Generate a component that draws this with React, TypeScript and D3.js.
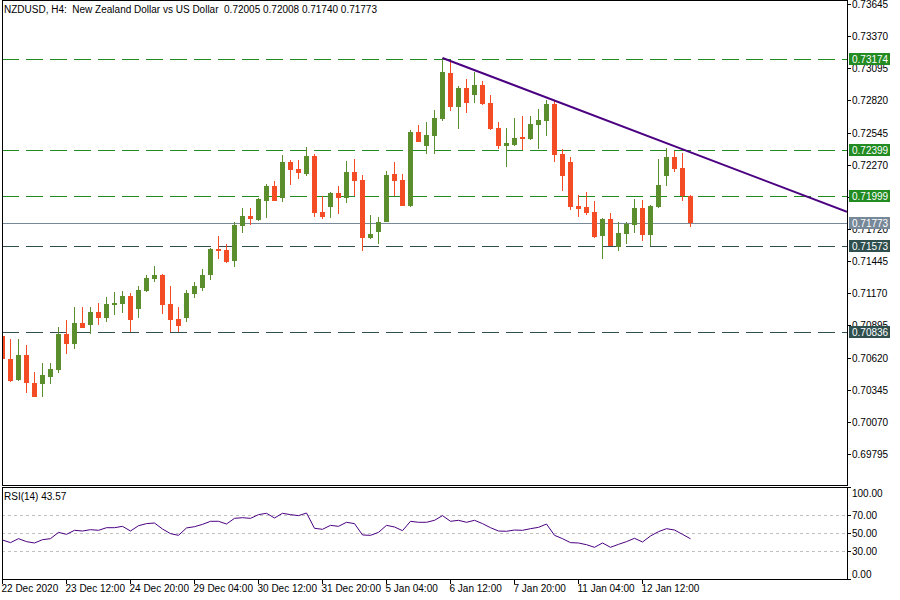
import React from 'react';
import * as d3 from 'd3';

// ---------- DATA ----------
const xTickLabels = ["22 Dec 2020", "23 Dec 12:00", "24 Dec 20:00", "29 Dec 04:00", "30 Dec 12:00", "31 Dec 20:00", "5 Jan 04:00", "6 Jan 12:00", "7 Jan 20:00", "11 Jan 04:00", "12 Jan 12:00"];
const xTickBars = [0, 8, 16, 24, 32, 40, 48, 56, 64, 72, 80];

const openP = [0.70805, 0.70608, 0.70428, 0.70642, 0.70402, 0.70394, 0.70454, 0.70514, 0.70822, 0.70736,
  0.70916, 0.70899, 0.71010, 0.70959, 0.71070, 0.71078, 0.71147, 0.71036, 0.71190, 0.71292,
  0.71326, 0.71078, 0.70950, 0.70959, 0.71164, 0.71215, 0.71326, 0.71549, 0.71540, 0.71446,
  0.71746, 0.71831, 0.71797, 0.71960, 0.72088, 0.71985, 0.72293, 0.72233, 0.72191, 0.72345,
  0.71865, 0.71908, 0.72028, 0.71985, 0.72208, 0.72139, 0.71643, 0.71694, 0.71780, 0.72191,
  0.72139, 0.71917, 0.72550, 0.72430, 0.72516, 0.72661, 0.73055, 0.72764, 0.72926, 0.72866,
  0.72952, 0.72798, 0.72584, 0.72430, 0.72439, 0.72507, 0.72490, 0.72610, 0.72644, 0.72789,
  0.72362, 0.72293, 0.71917, 0.71908, 0.71865, 0.71660, 0.71806, 0.71566, 0.71677, 0.71754,
  0.71900, 0.71669, 0.71908, 0.72173, 0.72336, 0.72242, 0.72005];
const highP = [0.70822, 0.70779, 0.70779, 0.70728, 0.70497, 0.70574, 0.70574, 0.70882, 0.70941, 0.71053,
  0.71053, 0.71053, 0.71087, 0.71138, 0.71181, 0.71190, 0.71172, 0.71232, 0.71326, 0.71403,
  0.71335, 0.71232, 0.71053, 0.71198, 0.71267, 0.71378, 0.71557, 0.71660, 0.71592, 0.71780,
  0.71900, 0.71900, 0.71985, 0.72105, 0.72131, 0.72353, 0.72310, 0.72310, 0.72422, 0.72362,
  0.72002, 0.72037, 0.72088, 0.72302, 0.72319, 0.72182, 0.71840, 0.71823, 0.72216, 0.72293,
  0.72191, 0.72567, 0.72610, 0.72635, 0.72738, 0.73183, 0.73166, 0.72943, 0.73003, 0.73063,
  0.72986, 0.72866, 0.72635, 0.72584, 0.72670, 0.72687, 0.72687, 0.72747, 0.72824, 0.72824,
  0.72404, 0.72336, 0.72011, 0.72037, 0.71960, 0.71814, 0.71857, 0.71780, 0.71780, 0.71977,
  0.71968, 0.71925, 0.72319, 0.72413, 0.72387, 0.72370, 0.72008];
const lowP = [0.70582, 0.70411, 0.70420, 0.70317, 0.70283, 0.70283, 0.70394, 0.70488, 0.70651, 0.70693,
  0.70873, 0.70822, 0.70899, 0.70924, 0.70984, 0.71001, 0.70839, 0.70959, 0.71181, 0.71267,
  0.70993, 0.70839, 0.70839, 0.70924, 0.71130, 0.71190, 0.71284, 0.71463, 0.71429, 0.71395,
  0.71686, 0.71754, 0.71788, 0.71814, 0.71960, 0.71951, 0.72096, 0.72148, 0.72173, 0.71823,
  0.71806, 0.71814, 0.71848, 0.71942, 0.72002, 0.71532, 0.71634, 0.71592, 0.71780, 0.72002,
  0.71917, 0.71908, 0.72464, 0.72362, 0.72362, 0.72644, 0.72730, 0.72576, 0.72712, 0.72798,
  0.72781, 0.72567, 0.72404, 0.72250, 0.72430, 0.72396, 0.72481, 0.72404, 0.72516, 0.72293,
  0.72045, 0.71883, 0.71823, 0.71840, 0.71643, 0.71463, 0.71575, 0.71532, 0.71592, 0.71686,
  0.71617, 0.71575, 0.71900, 0.72088, 0.72208, 0.71960, 0.71740];
const closeP = [0.70608, 0.70420, 0.70642, 0.70402, 0.70283, 0.70471, 0.70522, 0.70822, 0.70736, 0.70916,
  0.70873, 0.71010, 0.70959, 0.71078, 0.71087, 0.71147, 0.70941, 0.71198, 0.71301, 0.71326,
  0.71070, 0.70941, 0.70890, 0.71172, 0.71232, 0.71326, 0.71549, 0.71532, 0.71438, 0.71754,
  0.71831, 0.71806, 0.71977, 0.72088, 0.71960, 0.72293, 0.72225, 0.72199, 0.72345, 0.71857,
  0.71823, 0.72028, 0.71985, 0.72208, 0.72131, 0.71643, 0.71677, 0.71780, 0.72182, 0.72131,
  0.71917, 0.72550, 0.72464, 0.72524, 0.72670, 0.73063, 0.72764, 0.72926, 0.72798, 0.72952,
  0.72789, 0.72576, 0.72430, 0.72456, 0.72499, 0.72490, 0.72618, 0.72653, 0.72789, 0.72353,
  0.72173, 0.71908, 0.71891, 0.71857, 0.71652, 0.71806, 0.71575, 0.71686, 0.71763, 0.71900,
  0.71669, 0.71917, 0.72096, 0.72336, 0.72233, 0.72002, 0.71773];

const rsi14 = [42.2, 39.3, 43.7, 40.4, 38.9, 42.6, 43.7, 50.7, 48.5, 53.0,
  52.2, 53.7, 53.0, 55.9, 55.9, 57.4, 52.2, 58.1, 60.4, 61.1,
  54.4, 49.3, 47.4, 55.6, 57.0, 59.6, 63.0, 63.0, 60.0, 66.3,
  67.0, 66.3, 70.4, 71.9, 66.7, 71.9, 70.4, 69.3, 72.2, 55.2,
  54.1, 58.5, 57.4, 61.9, 60.4, 47.8, 47.4, 50.7, 58.5, 56.7,
  52.6, 63.0, 61.9, 61.9, 64.1, 69.3, 63.0, 64.1, 61.9, 64.1,
  60.4, 55.9, 52.2, 51.9, 53.3, 53.0, 54.8, 56.3, 60.0, 47.4,
  43.7, 39.3, 38.9, 37.0, 34.1, 38.9, 34.1, 37.4, 40.4, 44.1,
  40.0, 46.7, 51.5, 54.8, 53.3, 48.5, 43.57];

const priceTickLabels = ["0.73645", "0.73370", "0.73095", "0.72820", "0.72545", "0.72270", "0.71995", "0.71720", "0.71445", "0.71170", "0.70895", "0.70620", "0.70345", "0.70070", "0.69795"];
const rsiTickValues = [100, 70, 50, 30, 0];
const rsiLevels = [70, 50, 30];

const resistanceLevels = [0.73174, 0.72399, 0.71999];
const supportLevels = [0.71573, 0.70836];
const lastPrice = 0.71773;

const trendBars = [55, 83];
const trendPrices = [0.73183, 0.72454];

const titleText = "NZDUSD, H4:  New Zealand Dollar vs US Dollar  0.72005 0.72008 0.71740 0.71773";
const rsiTitle = "RSI(14) 43.57";

// ---------- LAYOUT ----------
const W = 900, H = 600;
const L = 2, R = 847;
const mainTop = 0, mainBottom = 485;
const rsiTop = 487, rsiBottom = 579;
const FONT = "'Liberation Sans', Arial, sans-serif";
const FS = 10;

const UP = '#5b8f2e';
const DOWN = '#f44d26';
const RES = '#228b22';
const SUP = '#2f4f4f';
const LAST = '#778899';
const TREND = '#4b0082';

export default function App() {
  const x = d3.scaleLinear().domain([0, 100]).range([2.5, 802.5]);
  const y = d3.scaleLinear().domain([0.69795, 0.73645]).range([454, 4]);
  const yr = d3.scaleLinear().domain([0, 100]).range([578, 488]);

  const candles = openP.map((o, i) => ({ o, h: highP[i], l: lowP[i], c: closeP[i], i }));

  const rsiLine = d3.line<number>().x((_, i) => x(i)).y(v => yr(v))(rsi14) || '';

  // trend line extended to the right edge
  const slope = (trendPrices[1] - trendPrices[0]) / (trendBars[1] - trendBars[0]);
  const endBar = x.invert(R);
  const trendEndPrice = trendPrices[0] + slope * (endBar - trendBars[0]);

  const levelLabel = (v: number, fill: string, key: string) => {
    const yy = Math.round(y(v));
    return (
      <g key={key}>
        <rect x={849} y={yy - 6} width={41} height={12} fill={fill} />
        <text x={852} y={yy} dy="0.35em" fill="#fff" fontSize={FS} fontFamily={FONT}>{v.toFixed(5)}</text>
      </g>
    );
  };

  return (
    <svg width={W} height={H} style={{ position: 'absolute', left: 0, top: 0, background: '#fff' }}>
      <defs>
        <clipPath id="mainClip"><rect x={L} y={mainTop} width={R - L} height={mainBottom - mainTop} /></clipPath>
        <clipPath id="rsiClip"><rect x={L} y={rsiTop} width={R - L} height={rsiBottom - rsiTop} /></clipPath>
      </defs>
      <rect x={0} y={0} width={W} height={H} fill="#fff" />

      {/* main panel */}
      <g clipPath="url(#mainClip)">
        {resistanceLevels.map((v, i) => (
          <line key={'r' + i} x1={L} x2={R} y1={Math.round(y(v)) + 0.5} y2={Math.round(y(v)) + 0.5} stroke={RES} strokeDasharray="17,7" />
        ))}
        {supportLevels.map((v, i) => (
          <line key={'s' + i} x1={L} x2={R} y1={Math.round(y(v)) + 0.5} y2={Math.round(y(v)) + 0.5} stroke={SUP} strokeDasharray="17,7" />
        ))}
        <line x1={L} x2={R} y1={Math.round(y(lastPrice)) + 0.5} y2={Math.round(y(lastPrice)) + 0.5} stroke={LAST} />
        <g shapeRendering="crispEdges">
          {candles.map(d => {
            const xc = Math.floor(x(d.i)) + 0.5;
            const col = d.c >= d.o ? UP : DOWN;
            const top = y(Math.max(d.o, d.c));
            const bot = y(Math.min(d.o, d.c));
            return (
              <g key={d.i}>
                <line x1={xc} x2={xc} y1={y(d.h)} y2={y(d.l)} stroke={col} />
                <rect x={xc - 2.5} y={top} width={5} height={Math.max(1, bot - top)} fill={col} />
              </g>
            );
          })}
        </g>
        <line x1={x(trendBars[0])} y1={y(trendPrices[0])} x2={R} y2={y(trendEndPrice)} stroke={TREND} strokeWidth={2} />
      </g>
      <rect x={L + 0.5} y={mainTop + 0.5} width={R - L} height={mainBottom - mainTop} fill="none" stroke="#000" strokeWidth={1} shapeRendering="crispEdges" />
      <text x={4} y={13} fontSize={FS} fontFamily={FONT} fill="#000" style={{ whiteSpace: 'pre' }}>{titleText}</text>

      {/* price axis */}
      {priceTickLabels.map((t, i) => {
        const yy = Math.round(y(+t)) + 0.5;
        return (
          <g key={'pt' + i}>
            <line x1={R} x2={R + 4} y1={yy} y2={yy} stroke="#000" shapeRendering="crispEdges" />
            <text x={852} y={yy} dy="0.35em" fontSize={FS} fontFamily={FONT} fill="#000">{t}</text>
          </g>
        );
      })}
      {resistanceLevels.map((v, i) => levelLabel(v, RES, 'rl' + i))}
      {levelLabel(lastPrice, LAST, 'last')}
      {supportLevels.map((v, i) => levelLabel(v, SUP, 'sl' + i))}

      {/* RSI panel */}
      <g clipPath="url(#rsiClip)">
        {rsiLevels.map(v => (
          <line key={'rl' + v} x1={L} x2={R} y1={Math.round(yr(v)) + 0.5} y2={Math.round(yr(v)) + 0.5} stroke="#c0c0c0" strokeDasharray="3,3" />
        ))}
        <path d={rsiLine} fill="none" stroke={TREND} strokeWidth={1} />
      </g>
      <rect x={L + 0.5} y={rsiTop + 0.5} width={R - L} height={rsiBottom - rsiTop} fill="none" stroke="#000" strokeWidth={1} shapeRendering="crispEdges" />
      <text x={4} y={500} fontSize={FS} fontFamily={FONT} fill="#000">{rsiTitle}</text>
      {rsiTickValues.map(v => {
        const yy = Math.round(yr(v)) + 0.5;
        const ty = v === 100 ? 493 : v === 0 ? 574 : yy;
        const tickY = v === 100 ? rsiTop + 0.5 : v === 0 ? rsiBottom + 0.5 : yy;
        return (
          <g key={'rt' + v}>
            <line x1={R} x2={R + 4} y1={tickY} y2={tickY} stroke="#000" shapeRendering="crispEdges" />
            <text x={852} y={ty} dy="0.35em" fontSize={FS} fontFamily={FONT} fill="#000">{v.toFixed(2)}</text>
          </g>
        );
      })}

      {/* time axis */}
      {xTickBars.map((b, i) => {
        const xx = Math.floor(x(b)) + 0.5;
        return (
          <g key={'xt' + i}>
            <line x1={xx} x2={xx} y1={rsiBottom} y2={rsiBottom + 5} stroke="#000" shapeRendering="crispEdges" />
            <text x={xx - 1} y={592} fontSize={FS} fontFamily={FONT} fill="#000">{xTickLabels[i]}</text>
          </g>
        );
      })}
    </svg>
  );
}
